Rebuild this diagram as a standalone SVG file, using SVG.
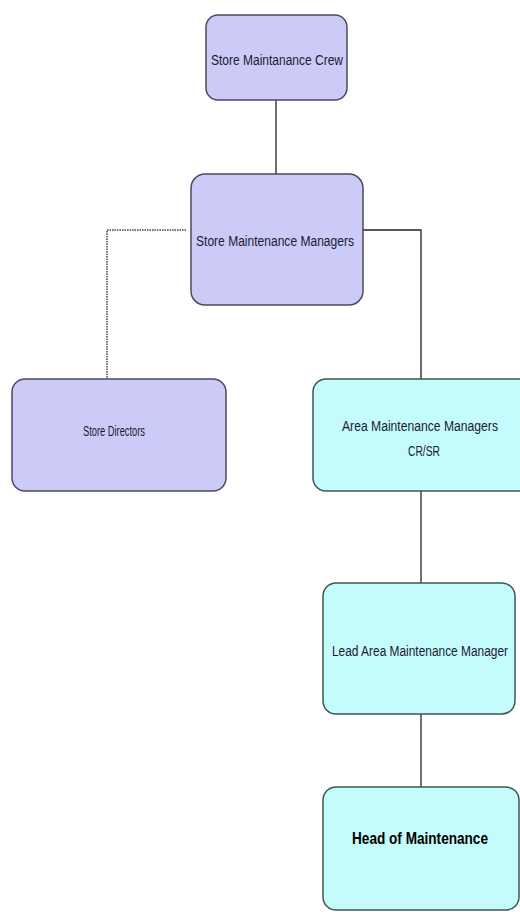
<svg xmlns="http://www.w3.org/2000/svg" width="520" height="912" viewBox="0 0 520 912">
<style>
.p{fill:#cccbf7;stroke:#4a4a66;stroke-width:1.5}
.c{fill:#c4fbfb;stroke:#3f5656;stroke-width:1.5}
.t{font-family:"Liberation Sans Narrow","Liberation Sans",Arial,sans-serif;font-size:14px;fill:#1a1a33;text-anchor:middle;dominant-baseline:middle}
.b{font-weight:bold;font-size:17px;fill:#000}
.ln{stroke:#222;stroke-width:1.3;fill:none}
.dl{stroke:#444;stroke-width:1.5;stroke-dasharray:1.5 1;fill:none}
</style>
<rect width="520" height="912" fill="#fff"/>
<g id="connectors">
<path class="ln" d="M276 100V174"/>
<path class="dl" d="M186 230H107V379"/>
<path class="ln" d="M363 230H421V379"/>
<path class="ln" d="M421 491V583"/>
<path class="ln" d="M421 714V787"/>
</g>
<g id="crew">
<rect class="p" x="206" y="15" width="141" height="85" rx="12"/>
<text class="t" x="277" y="61" textLength="132" lengthAdjust="spacingAndGlyphs">Store Maintanance Crew</text>
</g>
<g id="managers">
<rect class="p" x="191" y="174" width="172" height="131" rx="14"/>
<text class="t" x="275" y="242" textLength="158" lengthAdjust="spacingAndGlyphs">Store Maintenance Managers</text>
</g>
<g id="directors">
<rect class="p" x="12" y="379" width="214" height="112" rx="13"/>
<text class="t" x="114" y="432" textLength="62" lengthAdjust="spacingAndGlyphs">Store Directors</text>
</g>
<g id="area">
<rect class="c" x="313" y="379" width="220" height="112" rx="13"/>
<text class="t" x="420" y="427" textLength="156" lengthAdjust="spacingAndGlyphs">Area Maintenance Managers</text>
<text class="t" x="424" y="452" textLength="32" lengthAdjust="spacingAndGlyphs">CR/SR</text>
</g>
<g id="lead">
<rect class="c" x="323" y="583" width="192" height="131" rx="13"/>
<text class="t" x="420" y="652" textLength="176" lengthAdjust="spacingAndGlyphs">Lead Area Maintenance Manager</text>
</g>
<g id="head">
<rect class="c" x="323" y="787" width="196" height="123" rx="13"/>
<text class="t b" x="420" y="840" textLength="136" lengthAdjust="spacingAndGlyphs">Head of Maintenance</text>
</g>
</svg>
